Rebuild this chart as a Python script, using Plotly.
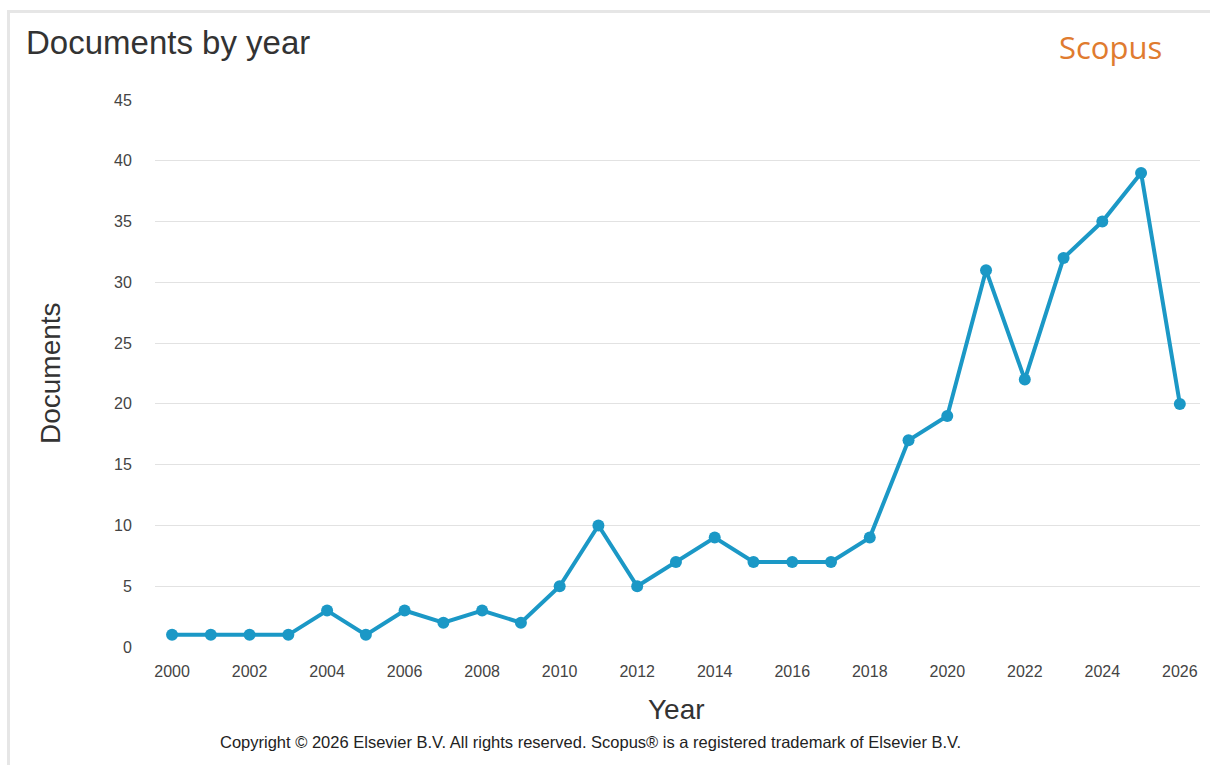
import plotly.graph_objects as go

years = list(range(2000, 2027))
documents = [1, 1, 1, 1, 3, 1, 3, 2, 3, 2, 5, 10, 5, 7, 9, 7, 7, 7, 9, 17, 19, 31, 22, 32, 35, 39, 20]
x_ticks = list(range(2000, 2027, 2))
y_ticks = list(range(0, 50, 5))

W, H = 1210, 765
L, R, T, B = 155, 10, 100, 118
pw, ph = W - L - R, H - T - B


def px(x):
    return (x - L) / pw


def py(y):
    return (H - B - y) / ph


line_color = "#1b98c6"

fig = go.Figure()
fig.add_trace(go.Scatter(
    x=years, y=documents, mode="lines+markers",
    line=dict(color=line_color, width=4),
    marker=dict(color=line_color, size=12),
    cliponaxis=False, showlegend=False,
))

font_main = "Liberation Sans, Arial, sans-serif"

fig.update_layout(
    width=W, height=H,
    margin=dict(l=L, r=R, t=T, b=B, autoexpand=False),
    paper_bgcolor="white", plot_bgcolor="white",
    font=dict(family=font_main, color="#444"),
    xaxis=dict(
        range=[1999.56, 2026.52], tickvals=x_ticks, showgrid=False,
        zeroline=False, showline=False,
        ticks="outside", ticklen=10, tickcolor="rgba(0,0,0,0)",
        tickfont=dict(size=16, color="#444"),
    ),
    yaxis=dict(
        range=[0, 45], tickvals=y_ticks, showgrid=True,
        gridcolor="#e2e2e2", gridwidth=1, zeroline=False, showline=False,
        ticks="outside", ticklen=19, tickcolor="rgba(0,0,0,0)",
        tickfont=dict(size=16, color="#444"),
    ),
    shapes=[
        dict(type="rect", xref="paper", yref="paper",
             x0=px(7), x1=px(1210), y0=py(10), y1=py(13),
             fillcolor="#e6e6e6", line=dict(width=0), layer="below"),
        dict(type="rect", xref="paper", yref="paper",
             x0=px(7), x1=px(10), y0=py(10), y1=py(765),
             fillcolor="#e6e6e6", line=dict(width=0), layer="below"),
    ],
    annotations=[
        dict(text="Documents by year", xref="paper", yref="paper",
             x=px(24), y=py(42), xanchor="left", yanchor="middle",
             showarrow=False, font=dict(size=33, color="#333", family=font_main)),
        dict(text="Scopus", xref="paper", yref="paper",
             x=px(1110), y=py(47), xanchor="center", yanchor="middle",
             showarrow=False, font=dict(size=31, color="#e07b2f", family="Open Sans, sans-serif")),
        dict(text="Documents", xref="paper", yref="paper",
             x=px(50), y=py(373), xanchor="center", yanchor="middle", textangle=-90,
             showarrow=False, font=dict(size=28, color="#333", family=font_main)),
        dict(text="Year", xref="paper", yref="paper",
             x=px(676), y=py(710), xanchor="center", yanchor="middle",
             showarrow=False, font=dict(size=28, color="#333", family=font_main)),
        dict(text="Copyright © 2026 Elsevier B.V. All rights reserved. Scopus® is a registered trademark of Elsevier B.V.",
             xref="paper", yref="paper",
             x=px(590), y=py(742), xanchor="center", yanchor="middle",
             showarrow=False, font=dict(size=16.5, color="#222", family=font_main)),
    ],
)

fig.write_html(
    "out.html",
    config={"displayModeBar": False},
    post_script="document.body.style.margin='0';document.body.style.overflow='hidden';",
)
